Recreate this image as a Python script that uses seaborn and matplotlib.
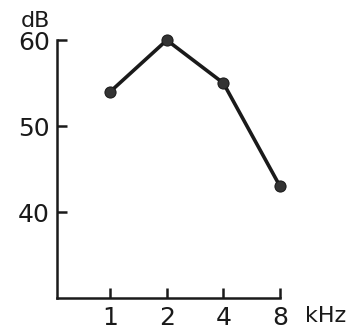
import matplotlib
matplotlib.use("Agg")
import matplotlib.pyplot as plt
import seaborn as sns
import pandas as pd

freq_khz = [1, 2, 4, 8]
freq_labels = ["1", "2", "4", "8"]
level_db = [54, 60, 55, 43]
y_ticks = [40, 50, 60]

sns.set_style("ticks")
plt.rcParams["font.family"] = ["DejaVu Sans"]
plt.rcParams["xtick.direction"] = "in"
plt.rcParams["ytick.direction"] = "in"

df = pd.DataFrame({"freq": freq_khz, "db": level_db})

fig = plt.figure(figsize=(3.54, 3.29), dpi=100)
ax = fig.add_axes([0.161, 0.094, 0.630, 0.784])
sns.lineplot(data=df, x="freq", y="db", ax=ax, color="#1a1a1a", linewidth=2.6,
             marker="o", markersize=8, markeredgecolor="#1a1a1a",
             markerfacecolor="#333333", clip_on=False)
ax.set_xscale("log", base=2)
ax.set_xlim(2 ** -0.94, 8)
ax.set_ylim(30, 60)
ax.set_xticks(freq_khz)
ax.set_xticklabels(freq_labels)
ax.minorticks_off()
ax.set_yticks(y_ticks)
ax.set_xlabel("")
ax.set_ylabel("")
for s in ["top", "right"]:
    ax.spines[s].set_visible(False)
for s in ["left", "bottom"]:
    ax.spines[s].set_linewidth(1.8)
    ax.spines[s].set_color("#1a1a1a")
ax.tick_params(axis="both", which="both", direction="in", length=7, width=1.8,
               color="#1a1a1a", labelsize=18, labelcolor="#1a1a1a")
ax.tick_params(axis="x", pad=6)
ax.tick_params(axis="y", pad=5)
ax.text(-0.03, 1.035, "dB", transform=ax.transAxes, ha="right", va="bottom",
        fontsize=16, color="#1a1a1a")
ax.text(1.11, -0.03, "kHz", transform=ax.transAxes, ha="left", va="top",
        fontsize=16, color="#1a1a1a")
fig.savefig("out.png", dpi=100)
